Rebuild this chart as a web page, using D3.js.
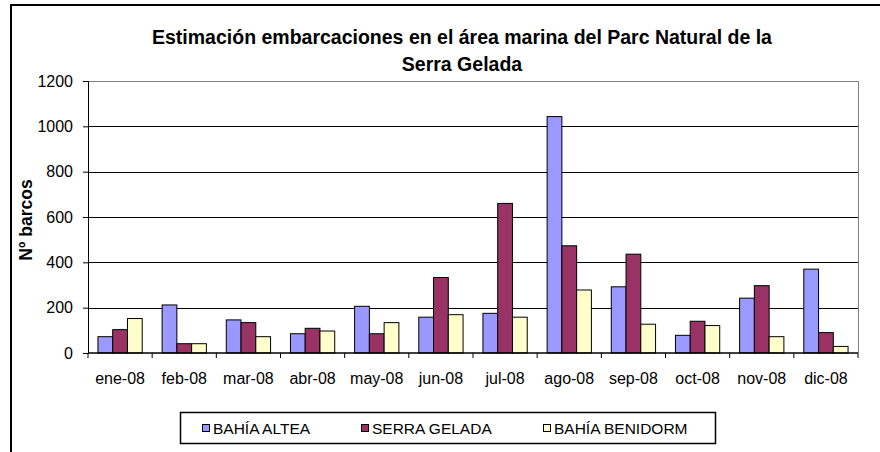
<!DOCTYPE html>
<html>
<head>
<meta charset="utf-8">
<script src="https://cdn.jsdelivr.net/npm/d3@7"></script>
<style>
  body { margin: 0; background: #fff; }
  text { font-family: "Liberation Sans", Arial, sans-serif; }
</style>
</head>
<body>
<div id="chart"></div>
<script>
// data
var meses = ["ene-08", "feb-08", "mar-08", "abr-08", "may-08", "jun-08",
             "jul-08", "ago-08", "sep-08", "oct-08", "nov-08", "dic-08"];
var series = ["BAHÍA ALTEA", "SERRA GELADA", "BAHÍA BENIDORM"];
var bahiaAltea    = [72, 212, 146, 85, 206, 158, 175, 1043, 292, 78, 242, 370];
var serraGelada   = [103, 41, 134, 109, 85, 333, 660, 473, 436, 140, 297, 90];
var bahiaBenidorm = [152, 41, 72, 97, 134, 169, 158, 278, 127, 121, 72, 29];
var yTicks = [0, 200, 400, 600, 800, 1000, 1200];
var colores = ["#9999FF", "#993366", "#FFFFCC"];

var valores = [bahiaAltea, serraGelada, bahiaBenidorm];
var rows = meses.map(function (m, i) {
    return { mes: m, vals: valores.map(function (s) { return s[i]; }) };
});

var W = 880, H = 452;
var margin = { top: 81, right: 22, bottom: 99, left: 88 },
    width = W - margin.left - margin.right,
    height = H - margin.top - margin.bottom;

var root = d3.select("#chart")
    .append("svg")
    .attr("width", W)
    .attr("height", H);

// chart border
root.append("rect")
    .attr("x", 11).attr("y", 5)
    .attr("width", 1000).attr("height", 1000)
    .attr("fill", "none")
    .attr("stroke", "#000")
    .attr("stroke-width", 2);

// title
var title = root.append("text")
    .attr("text-anchor", "middle")
    .attr("font-weight", "bold")
    .style("font-size", "19.5px");
title.append("tspan").attr("x", 462).attr("y", 44)
    .text("Estimación embarcaciones en el área marina del Parc Natural de la");
title.append("tspan").attr("x", 462).attr("y", 71)
    .text("Serra Gelada");

var svg = root.append("g")
    .attr("transform", "translate(" + margin.left + "," + margin.top + ")");

var x = d3.scaleBand().domain(meses).range([0, width]).padding(0);
var gap = x.bandwidth() * 0.155;
var x1 = d3.scaleBand().domain(d3.range(series.length))
    .range([gap, x.bandwidth() - gap]).padding(0);
var y = d3.scaleLinear().domain([0, 1200]).range([height, 0]);

// grid lines
svg.append("g")
    .selectAll("line")
    .data(yTicks.filter(function (d) { return d > 0; }))
    .enter().append("line")
    .attr("x1", 0).attr("x2", width)
    .attr("y1", function (d) { return Math.round(y(d)) + 0.5; })
    .attr("y2", function (d) { return Math.round(y(d)) + 0.5; })
    .attr("stroke", function (d) { return d === 1200 ? "#808080" : "#000"; })
    .attr("stroke-width", 1);

// right border
svg.append("line")
    .attr("x1", width + 0.5).attr("x2", width + 0.5)
    .attr("y1", 0).attr("y2", height)
    .attr("stroke", "#808080");

// bars
svg.append("g")
    .selectAll("g")
    .data(rows)
    .enter().append("g")
    .attr("transform", function (d) { return "translate(" + x(d.mes) + ",0)"; })
    .selectAll("rect")
    .data(function (d) { return d.vals; })
    .enter().append("rect")
    .attr("x", function (d, i) { return x1(i); })
    .attr("width", x1.bandwidth())
    .attr("y", function (d) { return y(d); })
    .attr("height", function (d) { return height - y(d); })
    .attr("fill", function (d, i) { return colores[i]; })
    .attr("stroke", "#000")
    .attr("stroke-width", 1);

// y axis
var yAxis = d3.axisLeft(y).tickValues(yTicks).tickFormat(d3.format("d"))
    .tickSize(5).tickPadding(10);
var yg = svg.append("g").attr("class", "yAxis").call(yAxis);
yg.select(".domain").attr("stroke", "#000");
yg.selectAll("text").style("font-size", "16px").attr("fill", "#000");

// x axis
var xg = svg.append("g")
    .attr("class", "xAxis")
    .attr("transform", "translate(0," + height + ")");
xg.append("line")
    .attr("x1", 0).attr("x2", width)
    .attr("stroke", "#000").attr("stroke-width", 1.5);
xg.selectAll(".tick")
    .data(d3.range(meses.length + 1))
    .enter().append("line")
    .attr("class", "tick")
    .attr("x1", function (i) { return i * x.step(); })
    .attr("x2", function (i) { return i * x.step(); })
    .attr("y1", 0).attr("y2", 5)
    .attr("stroke", "#000");
xg.selectAll(".lbl")
    .data(meses)
    .enter().append("text")
    .attr("class", "lbl")
    .attr("text-anchor", "middle")
    .attr("x", function (d) { return x(d) + x.bandwidth() / 2; })
    .attr("y", 31)
    .style("font-size", "16px")
    .text(function (d) { return d; });

// y axis text
root.append("text")
    .attr("text-anchor", "middle")
    .attr("font-weight", "bold")
    .style("font-size", "17.5px")
    .attr("transform", "translate(32,220) rotate(-90)")
    .text("Nº barcos");

// legend
var legend = root.append("g");
legend.append("rect")
    .attr("x", 180.5).attr("y", 412.5)
    .attr("width", 535).attr("height", 31)
    .attr("fill", "#fff")
    .attr("stroke", "#000")
    .attr("stroke-width", 1.5);
var legX = [202, 361, 543];
var item = legend.selectAll(".item")
    .data(series)
    .enter().append("g")
    .attr("class", "item")
    .attr("transform", function (d, i) { return "translate(" + legX[i] + ",424)"; });
item.append("rect")
    .attr("x", 0.5).attr("y", 0.5)
    .attr("width", 7).attr("height", 7)
    .attr("fill", function (d, i) { return colores[i]; })
    .attr("stroke", "#000");
item.append("text")
    .attr("x", 11).attr("y", 9.5)
    .style("font-size", "15.5px")
    .text(function (d) { return d; });
</script>
</body>
</html>
